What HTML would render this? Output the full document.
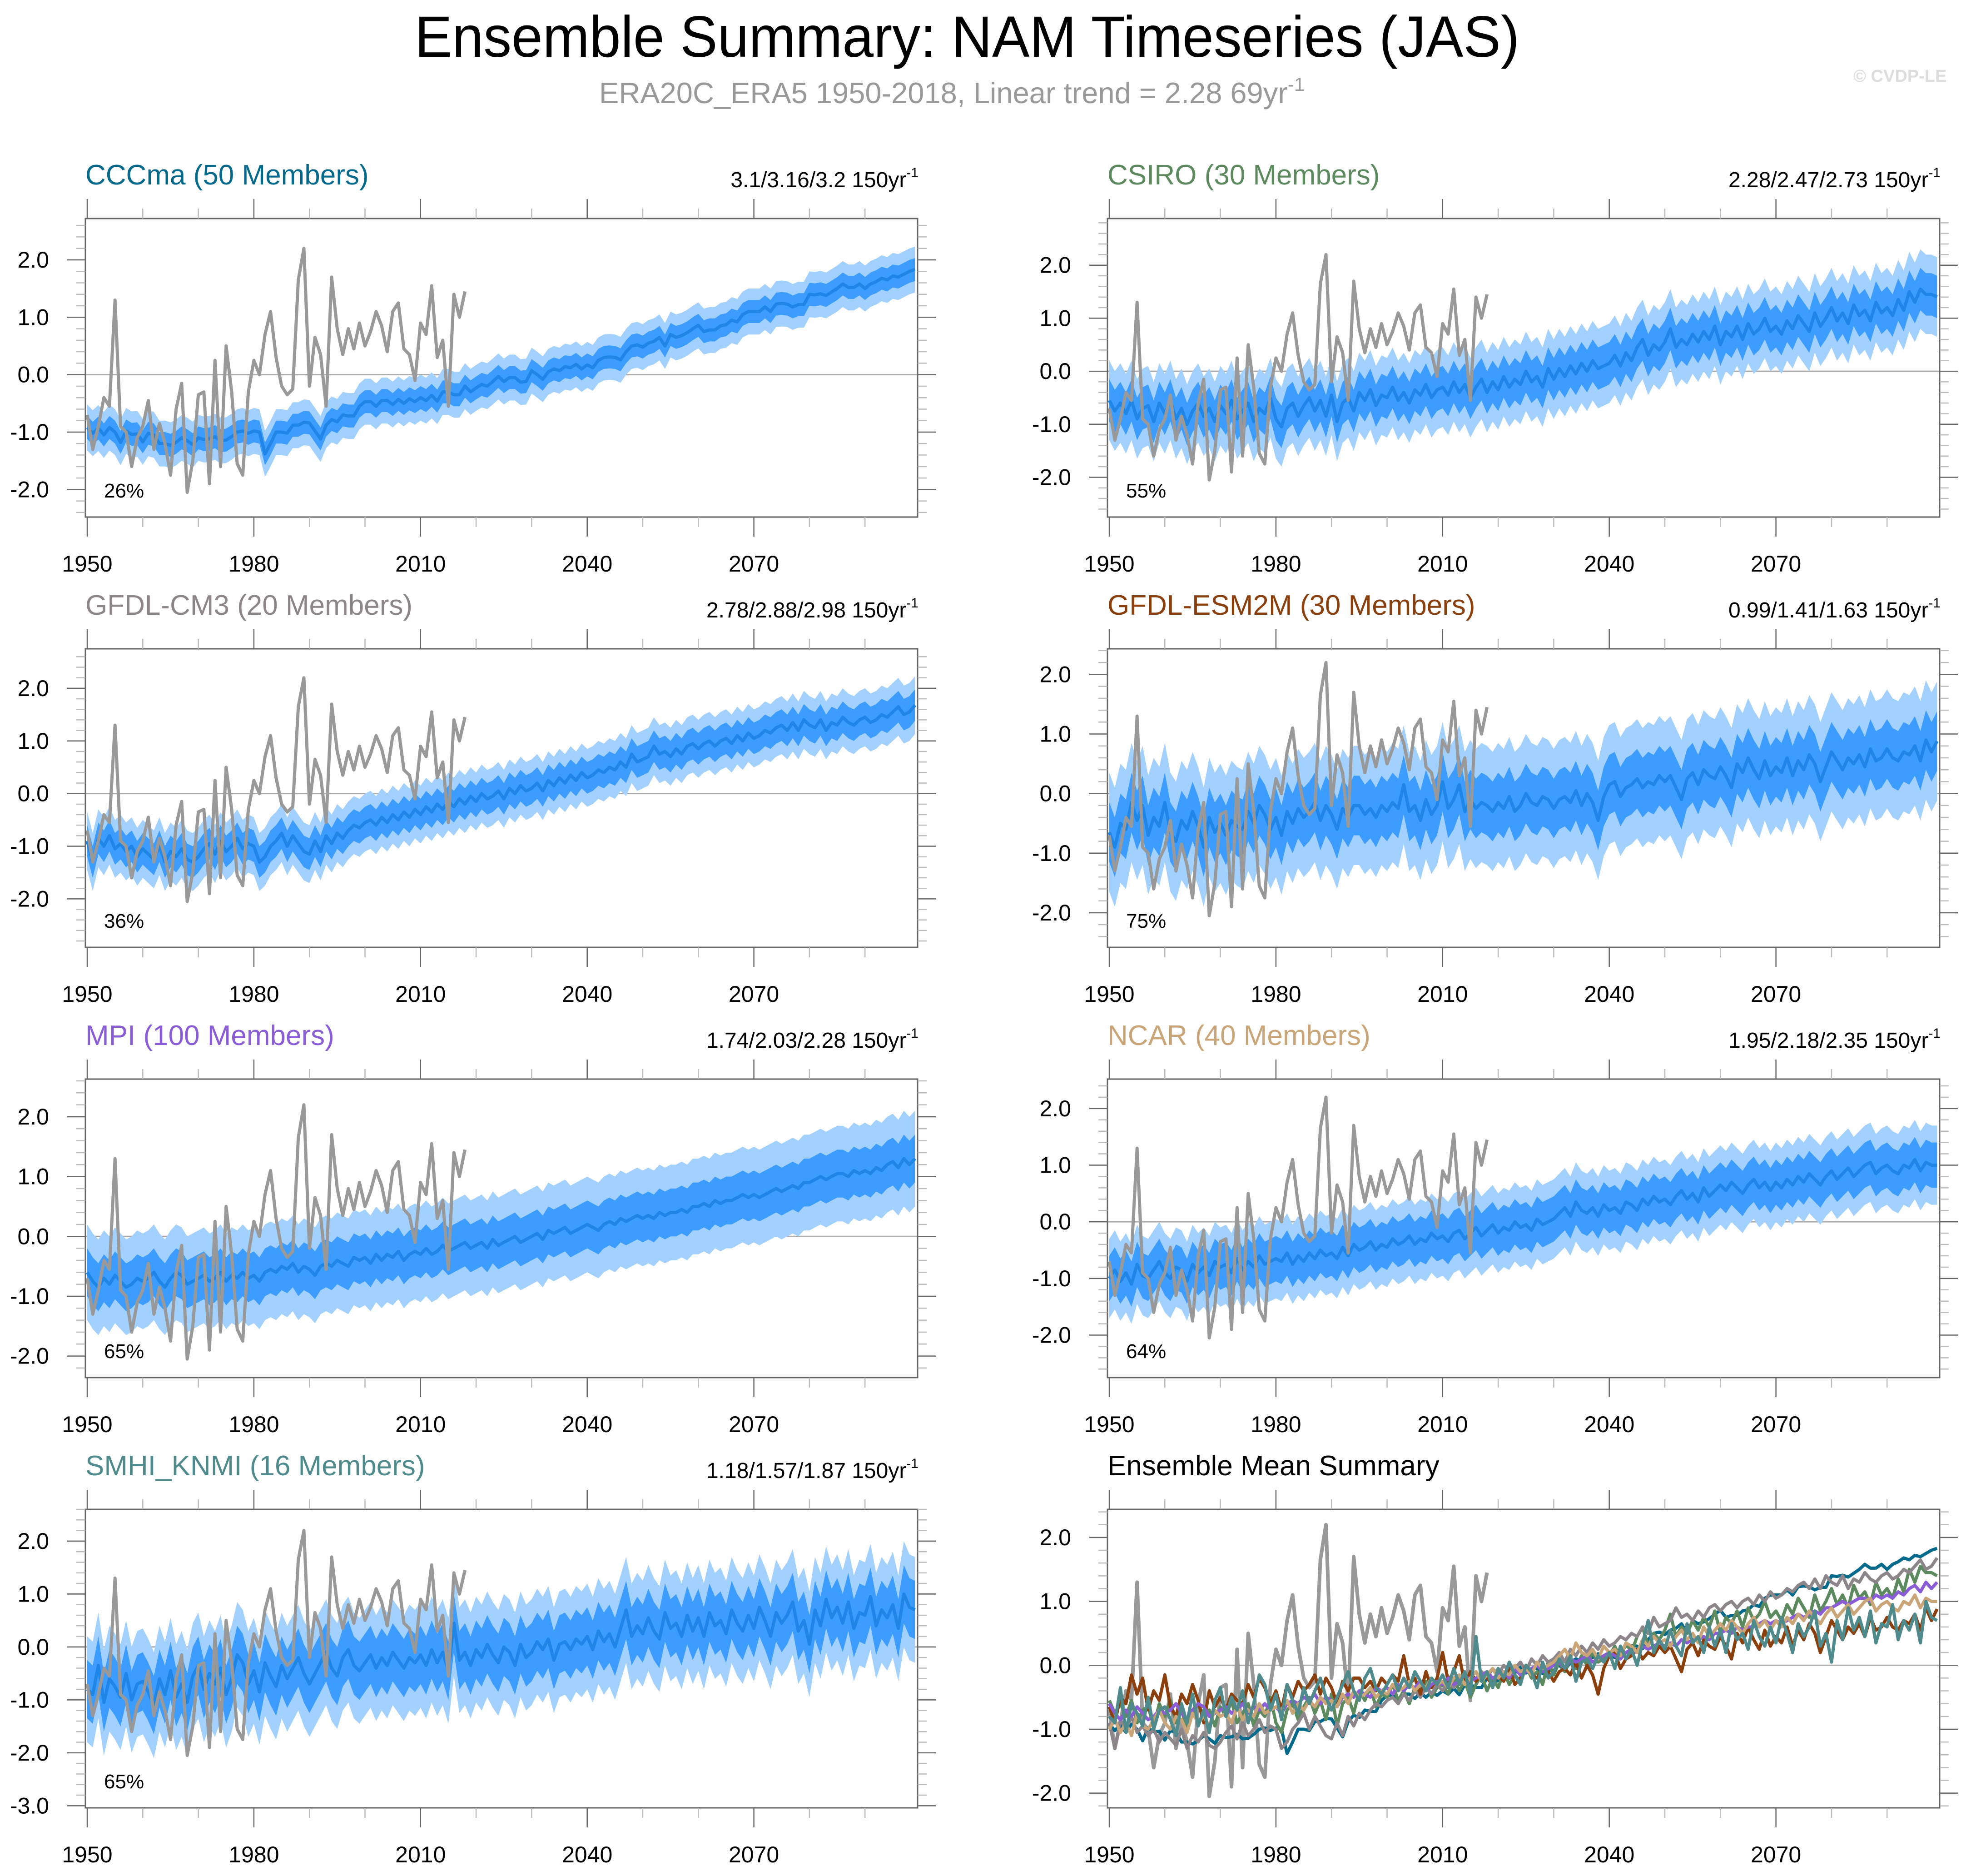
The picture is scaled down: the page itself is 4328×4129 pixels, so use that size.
<!DOCTYPE html>
<html><head><meta charset="utf-8"><title>Ensemble Summary: NAM Timeseries (JAS)</title>
<style>html,body{margin:0;padding:0;background:#fff}svg{display:block}text{font-family:"Liberation Sans",sans-serif}</style>
</head><body>
<svg id="chart" xmlns="http://www.w3.org/2000/svg" width="4328" height="4129" viewBox="0 0 4328 4129">
<text x="913" y="125" font-size="128" textLength="2432" lengthAdjust="spacingAndGlyphs">Ensemble Summary: NAM Timeseries (JAS)</text>
<text x="1319" y="227" font-size="65" fill="#999">ERA20C_ERA5 1950-2018, Linear trend = 2.28 69yr<tspan font-size="42" dy="-27">-1</tspan></text>
<text x="4080" y="180" font-size="38" fill="#ddd" font-weight="bold">© CVDP-LE</text>
</svg>
<script>
const NS='http://www.w3.org/2000/svg';
const svg=document.getElementById('chart');
const obsValues=[-0.7,-1.3,-0.9,-0.4,-0.55,1.3,-0.9,-1.0,-1.6,-1.1,-0.9,-0.45,-1.3,-0.85,-1.2,-1.75,-0.6,-0.15,-2.05,-1.5,-0.35,-0.3,-1.9,0.25,-1.6,0.5,-0.3,-1.55,-1.75,-0.3,0.25,0.0,0.7,1.1,0.3,-0.2,-0.35,-0.25,1.65,2.2,-0.2,0.65,0.35,-0.55,1.7,0.8,0.35,0.8,0.45,0.9,0.5,0.75,1.1,0.85,0.4,1.1,1.25,0.45,0.35,-0.1,0.9,0.7,1.55,0.3,0.6,-0.55,1.4,1.0,1.45];
const meanCCCma=[-0.92,-1.02,-0.93,-1.05,-0.92,-1.0,-1.18,-0.98,-1.04,-1.03,-1.17,-1.02,-1.05,-1.2,-1.2,-1.23,-1.18,-1.1,-1.15,-1.22,-1.1,-1.13,-1.12,-1.08,-1.15,-1.14,-1.08,-1.0,-0.98,-1.02,-0.98,-1.0,-1.38,-1.2,-1.0,-1.0,-1.02,-0.88,-0.88,-0.83,-0.84,-0.98,-1.12,-0.88,-0.78,-0.82,-0.7,-0.72,-0.72,-0.55,-0.47,-0.47,-0.55,-0.45,-0.45,-0.52,-0.43,-0.5,-0.42,-0.47,-0.4,-0.45,-0.36,-0.46,-0.3,-0.3,-0.35,-0.35,-0.2,-0.3,-0.23,-0.17,-0.2,-0.12,-0.03,-0.12,-0.05,-0.05,-0.13,-0.12,0.07,0.0,-0.08,0.05,0.1,0.07,0.14,0.12,0.18,0.1,0.17,0.12,0.25,0.3,0.31,0.3,0.26,0.4,0.5,0.52,0.48,0.55,0.58,0.65,0.5,0.7,0.65,0.68,0.73,0.8,0.86,0.75,0.78,0.78,0.85,0.87,0.95,0.92,1.05,1.1,1.1,1.1,1.18,1.1,1.23,1.24,1.23,1.18,1.22,1.22,1.4,1.39,1.41,1.38,1.44,1.5,1.58,1.52,1.52,1.58,1.5,1.58,1.62,1.68,1.65,1.72,1.7,1.75,1.8,1.83];
const meanCSIRO=[-0.55,-0.75,-0.6,-0.8,-0.55,-0.9,-0.7,-0.65,-0.95,-0.6,-0.8,-0.55,-0.9,-0.7,-1.0,-0.75,-0.6,-0.85,-0.7,-0.95,-0.65,-0.8,-0.55,-0.9,-0.75,-0.6,-0.95,-0.7,-0.8,-0.5,-0.9,-1.05,-0.7,-0.6,-0.85,-0.65,-0.5,-0.75,-0.55,-0.85,-0.45,-0.95,-0.6,-0.5,-0.75,-0.4,-0.55,-0.35,-0.65,-0.45,-0.5,-0.3,-0.55,-0.4,-0.6,-0.35,-0.45,-0.25,-0.5,-0.35,-0.3,-0.45,-0.2,-0.4,-0.25,-0.5,-0.3,-0.15,-0.4,-0.2,-0.35,-0.1,-0.3,-0.15,-0.25,0.0,-0.2,-0.1,-0.3,0.05,-0.15,0.05,-0.1,0.1,-0.05,0.15,0.0,0.2,0.05,0.1,0.15,0.3,0.1,0.35,0.2,0.45,0.6,0.3,0.5,0.4,0.55,0.8,0.45,0.6,0.5,0.7,0.55,0.75,0.6,0.85,0.5,0.75,0.65,0.85,0.6,0.9,0.7,0.8,1.0,0.75,0.85,0.7,0.95,0.8,1.05,0.9,0.75,1.1,0.85,1.0,1.2,0.95,1.1,0.9,1.25,1.05,1.15,0.95,1.3,1.1,1.2,1.05,1.35,1.15,1.5,1.3,1.55,1.45,1.45,1.4];
const meanCM3=[-0.9,-1.3,-0.85,-1.0,-0.8,-1.05,-0.95,-1.1,-1.0,-1.2,-1.05,-1.15,-1.25,-1.0,-1.3,-1.1,-1.2,-1.05,-1.25,-1.3,-1.2,-1.05,-0.95,-1.15,-0.9,-1.1,-1.0,-0.85,-1.05,-0.95,-1.0,-1.3,-1.2,-1.0,-0.9,-0.75,-1.0,-0.8,-0.95,-1.1,-1.15,-0.9,-1.1,-0.8,-0.95,-0.75,-0.85,-0.7,-0.6,-0.65,-0.55,-0.5,-0.6,-0.45,-0.55,-0.4,-0.5,-0.35,-0.45,-0.3,-0.4,-0.25,-0.35,-0.2,-0.3,-0.15,-0.25,-0.1,-0.2,-0.05,-0.15,0.0,-0.1,-0.05,0.05,-0.1,0.1,0.0,0.15,0.05,0.1,0.2,0.05,0.25,0.15,0.3,0.2,0.35,0.25,0.4,0.3,0.35,0.45,0.4,0.5,0.45,0.6,0.5,0.75,0.6,0.65,0.7,0.9,0.75,0.8,0.7,0.85,0.75,0.9,0.95,0.85,0.95,1.0,0.9,1.0,1.05,0.95,1.1,1.0,1.15,1.05,1.1,1.2,1.15,1.25,1.3,1.2,1.35,1.2,1.4,1.3,1.25,1.4,1.2,1.35,1.3,1.45,1.35,1.3,1.4,1.45,1.35,1.4,1.5,1.45,1.55,1.65,1.5,1.55,1.68];
const meanESM2M=[-0.65,-0.9,-0.5,-0.6,-0.15,-0.45,-0.2,-0.7,-0.4,-0.55,-0.15,-0.65,-0.8,-0.45,-0.6,-0.3,-0.55,-0.9,-0.4,-0.65,-0.5,-0.7,-0.45,-0.55,-0.6,-0.3,-0.5,-0.2,-0.35,-0.6,-0.4,-0.7,-0.3,-0.5,-0.25,-0.4,-0.3,-0.15,-0.45,-0.2,-0.35,-0.6,-0.25,-0.4,-0.2,-0.2,-0.35,-0.25,-0.4,-0.2,-0.3,-0.15,-0.25,0.15,-0.3,-0.2,-0.45,-0.1,-0.35,-0.2,0.2,-0.25,-0.1,0.15,-0.3,-0.1,-0.25,-0.15,-0.2,-0.3,-0.15,-0.25,-0.05,-0.3,-0.2,0.0,-0.15,-0.2,-0.05,-0.1,-0.25,-0.1,-0.05,-0.15,0.05,-0.2,0.0,-0.15,-0.45,-0.05,0.15,0.2,-0.05,0.1,0.15,0.25,0.1,0.2,0.15,0.3,0.2,0.3,0.1,-0.1,0.25,0.35,0.15,0.4,0.3,0.25,0.45,0.3,0.1,0.5,0.35,0.6,0.4,0.25,0.55,0.3,0.45,0.35,0.6,0.3,0.55,0.4,0.65,0.5,0.2,0.45,0.7,0.55,0.4,0.6,0.5,0.65,0.45,0.75,0.55,0.6,0.75,0.6,0.55,0.7,0.65,0.8,0.55,0.9,0.7,0.88];
const meanMPI=[-0.6,-0.75,-0.85,-0.7,-0.8,-0.65,-0.75,-0.85,-0.8,-0.7,-0.75,-0.7,-0.6,-0.75,-0.85,-0.7,-0.6,-0.65,-0.8,-0.75,-0.7,-0.65,-0.75,-0.7,-0.6,-0.75,-0.65,-0.7,-0.6,-0.7,-0.65,-0.75,-0.6,-0.55,-0.6,-0.5,-0.55,-0.45,-0.6,-0.5,-0.55,-0.65,-0.5,-0.45,-0.5,-0.4,-0.45,-0.5,-0.35,-0.4,-0.35,-0.45,-0.3,-0.4,-0.3,-0.35,-0.25,-0.4,-0.3,-0.25,-0.3,-0.2,-0.3,-0.25,-0.15,-0.25,-0.2,-0.15,-0.1,-0.2,-0.15,-0.1,-0.2,-0.05,-0.15,-0.1,-0.05,0.0,-0.1,-0.05,0.0,0.05,-0.05,0.1,0.05,0.1,0.15,0.05,0.1,0.15,0.2,0.15,0.1,0.2,0.25,0.2,0.3,0.25,0.3,0.35,0.3,0.35,0.3,0.4,0.35,0.4,0.4,0.45,0.4,0.5,0.5,0.55,0.5,0.6,0.55,0.6,0.6,0.65,0.7,0.65,0.7,0.65,0.7,0.75,0.8,0.75,0.8,0.85,0.8,0.9,0.9,0.95,1.0,0.95,1.0,1.05,1.05,1.0,1.1,1.05,1.1,1.05,1.15,1.1,1.2,1.25,1.15,1.3,1.2,1.3];
const meanNCAR=[-1.0,-0.85,-1.05,-0.9,-1.1,-0.75,-0.95,-1.0,-0.85,-0.7,-0.9,-1.0,-0.8,-0.85,-1.05,-0.75,-0.9,-0.8,-0.95,-0.7,-0.8,-0.75,-0.9,-0.65,-0.85,-0.7,-0.8,-0.6,-0.75,-0.7,-0.65,-0.7,-0.55,-0.75,-0.6,-0.7,-0.55,-0.65,-0.5,-0.6,-0.55,-0.65,-0.45,-0.6,-0.4,-0.5,-0.45,-0.35,-0.5,-0.4,-0.45,-0.3,-0.4,-0.35,-0.25,-0.4,-0.3,-0.35,-0.2,-0.3,-0.25,-0.35,-0.2,-0.15,-0.3,-0.2,-0.1,-0.25,-0.15,-0.05,-0.2,-0.1,-0.15,0.0,-0.1,-0.05,-0.15,0.05,-0.05,0.0,0.05,0.15,0.25,0.1,0.35,0.2,0.15,0.25,0.1,0.3,0.2,0.25,0.15,0.35,0.3,0.2,0.4,0.3,0.45,0.35,0.4,0.3,0.45,0.55,0.4,0.5,0.35,0.6,0.45,0.55,0.65,0.55,0.7,0.6,0.5,0.65,0.75,0.6,0.7,0.55,0.7,0.6,0.75,0.65,0.8,0.7,0.85,0.75,0.65,0.8,0.9,0.75,0.85,0.95,0.8,0.9,1.0,1.05,0.85,0.95,1.0,0.9,0.85,1.0,0.95,1.1,0.9,1.05,1.0,1.0];
const meanSMHI=[-0.8,-0.9,-0.35,-1.05,-0.6,-0.75,-0.95,-0.5,-1.0,-0.7,-0.65,-0.85,-1.1,-0.6,-0.9,-0.45,-0.95,-0.7,-1.05,-0.55,-0.35,-0.8,-0.5,-0.7,-0.4,-0.9,-0.6,-0.15,-0.3,-0.7,-0.45,-0.85,-0.3,-0.55,-0.75,-0.35,-0.6,-0.4,-0.2,-0.5,-0.7,-0.5,-0.3,-0.1,-0.4,-0.55,-0.2,-0.05,-0.35,-0.45,-0.3,-0.15,-0.4,-0.2,-0.35,-0.1,-0.25,-0.4,-0.2,-0.3,-0.15,-0.35,-0.05,-0.3,-0.1,-0.45,0.45,-0.25,-0.1,-0.35,-0.05,-0.2,0.05,-0.15,-0.3,0.0,-0.1,-0.35,0.05,-0.2,-0.1,0.1,-0.05,0.15,-0.25,0.05,0.1,-0.05,0.15,0.05,0.2,-0.05,0.3,0.1,0.25,0.0,0.35,0.7,0.2,0.4,0.25,0.55,0.3,0.15,0.65,0.35,0.45,0.2,0.6,0.3,0.55,0.2,0.65,0.4,0.5,0.25,0.7,0.45,0.3,0.6,0.35,0.75,0.5,0.2,0.65,0.45,0.6,0.85,0.3,0.5,0.05,0.7,0.4,0.9,0.55,0.75,0.45,0.85,0.35,0.65,0.6,0.95,0.4,0.7,0.55,0.8,0.35,1.0,0.75,0.7];
const modelNames=['CCCma (50 Members)','CSIRO (30 Members)','GFDL-CM3 (20 Members)','GFDL-ESM2M (30 Members)','MPI (100 Members)','NCAR (40 Members)','SMHI_KNMI (16 Members)'];
const trendLabels=['3.1/3.16/3.2 150yr','2.28/2.47/2.73 150yr','2.78/2.88/2.98 150yr','0.99/1.41/1.63 150yr','1.74/2.03/2.28 150yr','1.95/2.18/2.35 150yr','1.18/1.57/1.87 150yr'];
const pctLabels=['26%','55%','36%','75%','65%','64%','65%'];
const innerSpread=[0.2,0.4,0.3,0.5,0.4,0.4,0.55];
const outerSpread=[0.4,0.75,0.55,1.0,0.8,0.7,1.0];
const yMins=[-2.48,-2.75,-2.92,-2.58,-2.36,-2.75,-3.04,-2.23];
const yMaxs=[2.72,2.88,2.75,2.43,2.63,2.52,2.6,2.44];
const xTickYears=[1950,1980,2010,2040,2070];
const yTickVals=[-3,-2,-1,0,1,2];
const yTickLabels=['-3.0','-2.0','-1.0','0.0','1.0','2.0'];
const means=[meanCCCma,meanCSIRO,meanCM3,meanESM2M,meanMPI,meanNCAR,meanSMHI];
const modelColors=['#046a8c','#5c8a5e','#8c868a','#8b3f0c','#8a5cd6','#c9a577','#4f8a8c'];
const slugs=['cccma','csiro','gfdl-cm3','gfdl-esm2m','mpi','ncar','smhi-knmi'];

function el(tag,attrs,parent){const e=document.createElementNS(NS,tag);for(const k in attrs)e.setAttribute(k,attrs[k]);(parent||svg).appendChild(e);return e;}
const W=1832,H=657;
function panelPos(i){return {x0:(i%2===0)?188:2438,y0:481+Math.floor(i/2)*947};}
function lineD(arr,xs,ys){return arr.map((v,i)=>(i?'L':'M')+xs(1950+i).toFixed(1)+','+ys(v).toFixed(1)).join('');}
function bandD(arr,s,xs,ys){let d='';arr.forEach((v,i)=>{d+=(i?'L':'M')+xs(1950+i).toFixed(1)+','+ys(v+s).toFixed(1);});for(let i=arr.length-1;i>=0;i--){d+='L'+xs(1950+i).toFixed(1)+','+ys(arr[i]-s).toFixed(1);}return d+'Z';}

for(let p=0;p<8;p++){
  const {x0,y0}=panelPos(p);
  const yMin=yMins[p],yMax=yMaxs[p];
  const xs=yr=>x0+4+(yr-1950)*12.23;
  const ys=v=>y0+H-(v-yMin)/(yMax-yMin)*H;
  const g=el('g',{});
  
  
  const t=el('text',{x:x0,y:y0-75,'font-size':62,fill:p<7?modelColors[p]:'#000'},g);
  t.textContent=p<7?modelNames[p]:'Ensemble Mean Summary';
  
  
  if(p<7){
    const tr=el('text',{x:x0+W+2,y:y0-69,'font-size':48,'text-anchor':'end'},g);
    
    
    tr.appendChild(document.createTextNode(trendLabels[p]));
    const sup=el('tspan',{'font-size':30,dy:-22},tr);sup.textContent='-1';
  }
  const cid='clip'+p;
  const cp=el('clipPath',{id:cid},g);el('rect',{x:x0,y:y0,width:W,height:H},cp);
  const plot=el('g',{'clip-path':'url(#'+cid+')'},g);
  const z=el('line',{x1:x0,x2:x0+W,y1:ys(0),y2:ys(0),stroke:'#aaa','stroke-width':3},plot);
  
  
  if(p<7){
    const ob=el('path',{d:bandD(means[p],outerSpread[p],xs,ys),fill:'#a3d1ff'},plot);
    
    
    const ib=el('path',{d:bandD(means[p],innerSpread[p],xs,ys),fill:'#3d9cff'},plot);
    
    
    const ml=el('path',{d:lineD(means[p],xs,ys),fill:'none',stroke:'#1f86e6','stroke-width':7,'stroke-linejoin':'round'},plot);
    
    
    const ol=el('path',{d:lineD(obsValues,xs,ys),fill:'none',stroke:'#999','stroke-width':7,'stroke-linejoin':'round'},plot);
    
    
    const pt=el('text',{x:x0+41,y:y0+614,'font-size':44},g);
    pt.textContent=pctLabels[p];
    
    
  } else {
    const ol=el('path',{d:lineD(obsValues,xs,ys),fill:'none',stroke:'#999','stroke-width':8,'stroke-linejoin':'round'},plot);
    
    
    for(let m=0;m<7;m++){
      const l=el('path',{d:lineD(means[m],xs,ys),fill:'none',stroke:modelColors[m],'stroke-width':7,'stroke-linejoin':'round'},plot);
      
      
    }
  }
  const fr=el('rect',{x:x0,y:y0,width:W,height:H,fill:'none',stroke:'#666','stroke-width':3},g);
  
  
  for(let yr=1950;yr<=2090;yr+=10){
    const major=(yr-1950)%30===0, L=major?43:22, x=xs(yr);
    el('line',{x1:x,x2:x,y1:y0,y2:y0-L,stroke:major?'#666':'#bbb','stroke-width':2.5},g);
    el('line',{x1:x,x2:x,y1:y0+H,y2:y0+H+L,stroke:major?'#666':'#bbb','stroke-width':2.5},g);
  }
  xTickYears.forEach(yr=>{
    const tl=el('text',{x:xs(yr),y:y0+H+120,'font-size':50,'text-anchor':'middle'},g);
    tl.textContent=String(yr);
    
    
  });
  for(let k=Math.ceil(yMin*5);k<=Math.floor(yMax*5);k++){
    const v=k/5, major=(k%5===0), L=major?40:20, y=ys(v);
    el('line',{x1:x0,x2:x0-L,y1:y,y2:y,stroke:major?'#666':'#bbb','stroke-width':2.5},g);
    el('line',{x1:x0+W,x2:x0+W+L,y1:y,y2:y,stroke:major?'#666':'#bbb','stroke-width':2.5},g);
  }
  yTickVals.forEach((v,i)=>{
    if(v<yMin||v>yMax)return;
    const yl=el('text',{x:x0-80,y:ys(v)+17,'font-size':50,'text-anchor':'end'},g);
    yl.textContent=yTickLabels[i];
    
    
  });
}
</script>
</body></html>
